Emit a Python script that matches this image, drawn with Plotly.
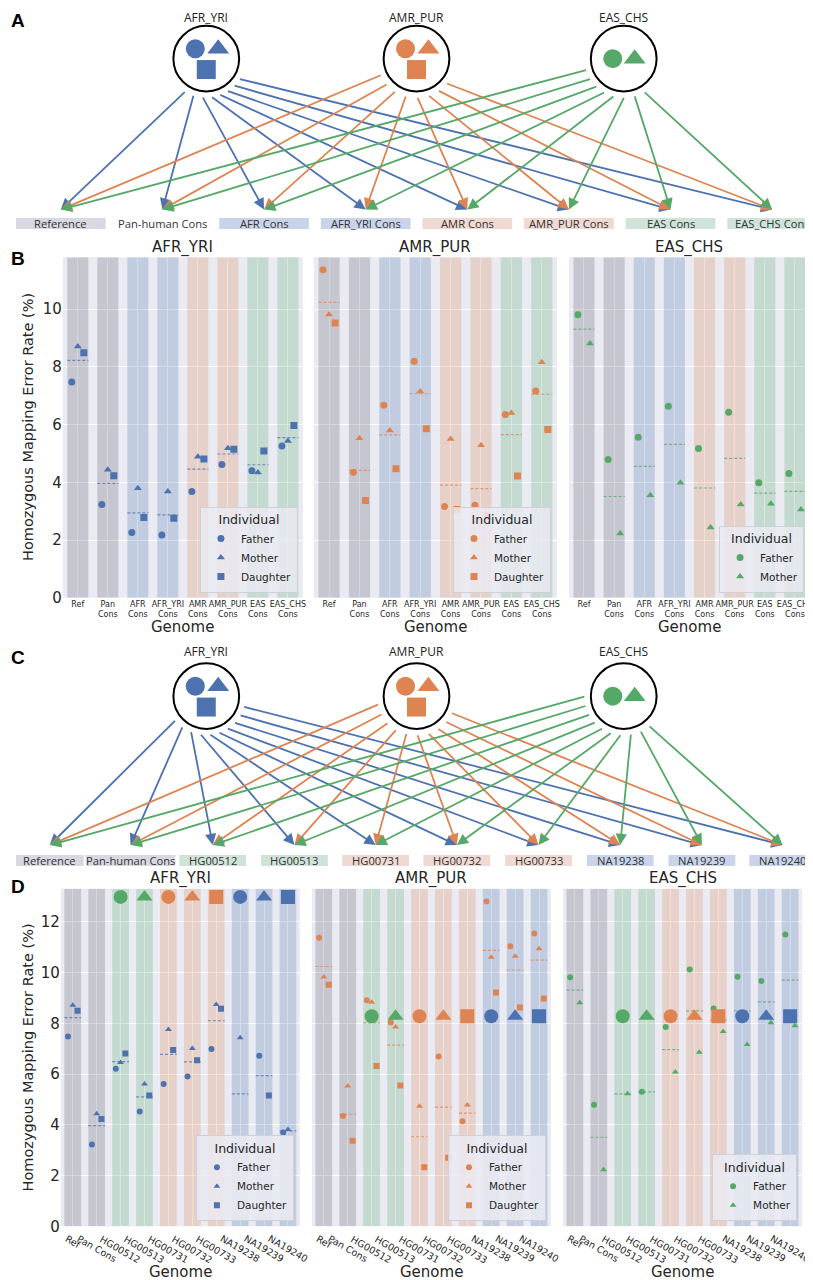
import numpy as np
import plotly.graph_objects as go

W, H = 813, 1280

# ---------------- data ----------------
populations = ["AFR_YRI", "AMR_PUR", "EAS_CHS"]
pop_members = [["Father", "Mother", "Daughter"],
               ["Father", "Mother", "Daughter"],
               ["Father", "Mother"]]

# A / B : consensus genomes
cons_targets = ["Reference", "Pan-human Cons", "AFR Cons", "AFR_YRI Cons",
                "AMR Cons", "AMR_PUR Cons", "EAS Cons", "EAS_CHS Cons"]
cons_box_groups = ["REF", None, "AFR", "AFR", "AMR", "AMR", "EAS", "EAS"]
cons_band_groups = ["REF", "REF", "AFR", "AFR", "AMR", "AMR", "EAS", "EAS"]
cons_ticks = ["Ref", "Pan<br>Cons", "AFR<br>Cons", "AFR_YRI<br>Cons", "AMR<br>Cons",
              "AMR_PUR<br>Cons", "EAS<br>Cons", "EAS_CHS<br>Cons"]

afr_cons_father = [7.48, 3.23, 2.26, 2.18, 3.68, 4.62, 4.40, 5.26]
afr_cons_mother = [8.71, 4.44, 3.80, 3.68, 4.89, 5.18, 4.34, 5.43]
afr_cons_daughter = [8.49, 4.23, 2.78, 2.76, 4.81, 5.15, 5.09, 5.97]
amr_cons_father = [11.37, 4.35, 6.67, 8.20, 3.16, 3.21, 6.35, 7.17]
amr_cons_mother = [9.82, 5.53, 5.80, 7.15, 5.50, 5.29, 6.40, 8.16]
amr_cons_daughter = [9.52, 3.37, 4.47, 5.86, 3.06, 2.84, 4.22, 5.83]
eas_cons_father = [9.81, 4.79, 5.56, 6.64, 5.17, 6.43, 3.99, 4.31]
eas_cons_mother = [8.81, 2.23, 3.55, 3.99, 2.44, 3.23, 3.26, 3.06]

# C / D : individual genomes
ind_targets = ["Reference", "Pan-human Cons", "HG00512", "HG00513", "HG00731",
               "HG00732", "HG00733", "NA19238", "NA19239", "NA19240"]
ind_groups = ["REF", "REF", "EAS", "EAS", "AMR", "AMR", "AMR", "AFR", "AFR", "AFR"]
ind_ticks = ["Ref", "Pan Cons", "HG00512", "HG00513", "HG00731",
             "HG00732", "HG00733", "NA19238", "NA19239", "NA19240"]
ind_owner_pop = [None, None, "EAS_CHS", "EAS_CHS", "AMR_PUR", "AMR_PUR", "AMR_PUR",
                 "AFR_YRI", "AFR_YRI", "AFR_YRI"]
ind_owner_role = [None, None, "Father", "Mother", "Father", "Mother", "Daughter",
                  "Father", "Mother", "Daughter"]
owner_marker_y = [12.98, 8.28, 8.28]

afr_ind_father = [7.48, 3.23, 6.21, 4.53, 5.61, 5.90, 6.99, None, 6.72, 3.70]
afr_ind_mother = [8.71, 4.44, 6.46, 5.61, 7.76, 7.01, 8.74, 7.43, None, 3.82]
afr_ind_daughter = [8.49, 4.23, 6.81, 5.16, 6.95, 6.54, 8.57, 3.01, 5.16, None]
amr_ind_father = [11.37, 4.35, 8.91, 8.03, None, 6.69, 4.14, 12.80, 11.04, 11.54]
amr_ind_mother = [9.82, 5.53, 8.83, 7.85, 4.73, None, 4.78, 10.60, 10.64, 10.94]
amr_ind_daughter = [9.52, 3.37, 6.32, 5.55, 2.33, 2.70, None, 9.21, 8.62, 8.98]
eas_ind_father = [9.81, 4.79, None, 5.30, 7.85, 10.12, 8.58, 9.83, 9.67, 11.50]
eas_ind_mother = [8.81, 2.23, 5.22, None, 6.08, 6.86, 7.68, 7.16, 8.02, 7.90]

# ---------------- style ----------------
pop_colors = {"AFR_YRI": "#4C72B0", "AMR_PUR": "#DD8452", "EAS_CHS": "#55A868"}
band_colors = {"REF": "rgba(105,105,122,0.28)", "AFR": "rgba(76,114,176,0.25)",
               "AMR": "rgba(221,132,82,0.25)", "EAS": "rgba(85,168,104,0.25)"}
box_colors = {"REF": "#D8D8E2", "AFR": "#C9D3EA", "AMR": "#EFD9D2", "EAS": "#D0E3D9"}
symbols = {"Father": "circle", "Mother": "triangle-up", "Daughter": "square"}
TXT = "#262626"
DIAG_FONT = "Open Sans"


def px(x):
    return x / W


def py(y):
    return 1 - y / H


fig = go.Figure()
shapes, annots, layout_axes, legends = [], [], {}, {}


def label(x, y, text, size, **kw):
    d = dict(x=px(x), y=py(y), xref="paper", yref="paper", text=text, showarrow=False,
             xanchor="center", yanchor="middle", font=dict(size=size, color=TXT))
    d.update(kw)
    annots.append(d)


def strip_panel(k, xpx, ypx, ymax, yticks, ticks, groups, pop, series, leg_px,
                msize, rotated, owners=None, owner_y=None):
    s = "" if k == 1 else str(k)
    xa, ya = "x" + s, "y" + s
    leg_id = "legend" + s
    n = len(ticks)
    cats = np.arange(n)
    color = pop_colors[pop]

    fig.add_trace(go.Bar(x=cats, y=[ymax] * n, width=0.7,
                         marker=dict(color=[band_colors[g] for g in groups], line_width=0),
                         showlegend=False, hoverinfo="skip", xaxis=xa, yaxis=ya))

    vals = np.array([[np.nan if v is None else v for v in vs] for _, vs in series], dtype=float)
    means = np.nanmean(vals, axis=0)
    mx, my = [], []
    for i, m in enumerate(means):
        mx += [i - 0.35, i + 0.35, None]
        my += [m, m, None]
    fig.add_trace(go.Scatter(x=mx, y=my, mode="lines", opacity=0.75,
                             line=dict(color=color, width=1.2, dash="3px,2px"),
                             showlegend=False, hoverinfo="skip", xaxis=xa, yaxis=ya))

    offs = [-0.2, 0.0, 0.2] if len(series) == 3 else [-0.2, 0.2]
    for (role, vs), off in zip(series, offs):
        xx = [i + off for i, v in enumerate(vs) if v is not None]
        yy = [v for v in vs if v is not None]
        fig.add_trace(go.Scatter(x=xx, y=yy, mode="markers", name=role,
                                 marker=dict(symbol=symbols[role], color=color, size=msize),
                                 legend=leg_id, xaxis=xa, yaxis=ya))

    if owners is not None:
        ox = [i for i, p in enumerate(owners[0]) if p is not None]
        fig.add_trace(go.Scatter(
            x=ox, y=[owner_y] * len(ox), mode="markers", showlegend=False,
            marker=dict(symbol=[symbols[owners[1][i]] for i in ox],
                        color=[pop_colors[owners[0][i]] for i in ox], size=14),
            xaxis=xa, yaxis=ya))

    shapes.append(dict(type="rect", xref=xa + " domain", yref=ya + " domain",
                       x0=0, x1=1, y0=0, y1=1, fillcolor="#EAEAF2",
                       line_width=0, layer="below"))

    layout_axes["xaxis" + s] = dict(
        domain=[px(xpx[0]), px(xpx[1])], range=[-0.5, n - 0.5], anchor=ya,
        tickvals=list(cats), ticktext=ticks, showticklabels=not rotated, tickangle=0,
        tickfont=dict(size=8, color=TXT), showgrid=True, gridcolor="white",
        zeroline=False, showline=False, ticks="")
    layout_axes["yaxis" + s] = dict(
        domain=[py(ypx[1]), py(ypx[0])], range=[0, ymax], anchor=xa,
        tickvals=yticks, showticklabels=(k in (1, 4)),
        tickfont=dict(size=15, color=TXT), showgrid=True, gridcolor="white",
        gridwidth=1, zeroline=False, showline=False, ticks="")

    cx = (xpx[0] + xpx[1]) / 2
    label(cx, ypx[0] - 10, pop, 15)
    label(cx, ypx[2], "Genome", 15)
    if rotated:
        for i, t in enumerate(ticks):
            annots.append(dict(x=i, y=py(ypx[1] + 4), xref=xa, yref="paper",
                               text=t, textangle=30, xanchor="center", yanchor="top",
                               showarrow=False, font=dict(size=9.5, color=TXT)))

    legends[leg_id] = dict(
        x=px(leg_px[0]), y=py(leg_px[1]), xanchor="right", yanchor="bottom",
        bgcolor="rgba(234,234,242,0.85)", bordercolor="#D0D0D8", borderwidth=1,
        title=dict(text="Individual", font=dict(size=12.5, color=TXT), side="top center"),
        font=dict(size=10.5, color=TXT), tracegroupgap=0)


# ---------------- panel B ----------------
b_x = [(55, 296), (307, 551), (563, 805)]
b_y = (251, 594, 623)
b_leg = [(291, 589), (545, 589), (799, 589)]
b_series = [
    [("Father", afr_cons_father), ("Mother", afr_cons_mother), ("Daughter", afr_cons_daughter)],
    [("Father", amr_cons_father), ("Mother", amr_cons_mother), ("Daughter", amr_cons_daughter)],
    [("Father", eas_cons_father), ("Mother", eas_cons_mother)],
]
for j, pop in enumerate(populations):
    strip_panel(j + 1, b_x[j], b_y, 11.8, [0, 2, 4, 6, 8, 10], cons_ticks,
                cons_band_groups, pop, b_series[j], b_leg[j], 7, False)

# ---------------- panel D ----------------
d_x = [(53, 293), (305, 545), (557, 797)]
d_y = (887, 1227, 1273)
d_leg = [(287, 1222), (540, 1222), (792, 1222)]
d_series = [
    [("Father", afr_ind_father), ("Mother", afr_ind_mother), ("Daughter", afr_ind_daughter)],
    [("Father", amr_ind_father), ("Mother", amr_ind_mother), ("Daughter", amr_ind_daughter)],
    [("Father", eas_ind_father), ("Mother", eas_ind_mother)],
]
for j, pop in enumerate(populations):
    strip_panel(j + 4, d_x[j], d_y, 13.3, [0, 2, 4, 6, 8, 10, 12], ind_ticks,
                ind_groups, pop, d_series[j], d_leg[j], 6, True,
                owners=(ind_owner_pop, ind_owner_role), owner_y=owner_marker_y[j])

# y axis titles
for yc in (422, 1057):
    label(20, yc, "Homozygous Mapping Error Rate (%)", 14.5, textangle=-90)

# ---------------- diagrams A and C ----------------
src_x = [199, 410, 618]


def diagram(src_y, label_y, targets, box_groups, tgt_x, box_w, tip_y, box_y, angles):
    for p, pop in enumerate(populations):
        cx = src_x[p]
        col = pop_colors[pop]
        annots.append(dict(x=cx, y=label_y, xref="x7", yref="y7", text=pop, showarrow=False,
                           xanchor="center", yanchor="middle",
                           font=dict(family=DIAG_FONT, size=12, color="#222")))
        shapes.append(dict(type="circle", xref="x7", yref="y7", x0=cx - 33, x1=cx + 33,
                           y0=src_y - 33, y1=src_y + 33, line=dict(color="black", width=2),
                           fillcolor="white", layer="below"))
        mem = pop_members[p]
        if len(mem) == 3:
            pos = [(-11, -10), (12, -10), (0, 11)]
        else:
            pos = [(-11, 0), (11, 0)]
        fig.add_trace(go.Scatter(
            x=[cx + d[0] for d in pos], y=[src_y + d[1] for d in pos], mode="markers",
            marker=dict(symbol=[symbols[m] for m in mem], color=col, size=19, line_width=0),
            showlegend=False, hoverinfo="skip", xaxis="x7", yaxis="y7"))
        a0, a1 = angles[p]
        th = np.radians(np.linspace(a0, a1, len(targets)))
        for t in range(len(targets)):
            sx = cx + 38 * np.cos(th[t])
            sy = src_y + 38 * np.sin(th[t])
            annots.append(dict(x=tgt_x[t], y=tip_y, ax=sx, ay=sy, xref="x7", yref="y7",
                               axref="x7", ayref="y7", text="", showarrow=True,
                               arrowhead=2, arrowsize=1.25, arrowwidth=1.8, arrowcolor=col,
                               standoff=0))
    for t, name in enumerate(targets):
        g = box_groups[t]
        if g is not None:
            shapes.append(dict(type="rect", xref="x7", yref="y7",
                               x0=tgt_x[t] - box_w[t] / 2, x1=tgt_x[t] + box_w[t] / 2,
                               y0=box_y - 5.5, y1=box_y + 5.5, fillcolor=box_colors[g],
                               line_width=0, layer="below"))
        annots.append(dict(x=tgt_x[t], y=box_y, xref="x7", yref="y7", text=name,
                           showarrow=False, xanchor="center", yanchor="middle",
                           font=dict(family=DIAG_FONT, size=11.2, color="#333")))


a_tx = [53 + 102 * i for i in range(len(cons_targets))]
diagram(51, 9.5, cons_targets, cons_box_groups, a_tx, [90] * 8, 203, 217,
        [(122, 32), (155, 40), (163, 59)])

c_tx = [42, 123, 205.5, 287.5, 369, 450.5, 532.5, 614.5, 696.5, 777.5]
c_w = [68, 90] + [67] * 8
diagram(693, 648, ind_targets, ind_groups, c_tx, c_w, 843, 858.5,
        [(142, 16), (168, 26), (180, 50)])

layout_axes["xaxis7"] = dict(domain=[0, 1], range=[0, W], visible=False, anchor="y7")
layout_axes["yaxis7"] = dict(domain=[0, 1], range=[H, 0], visible=False, anchor="x7")

# panel letters
for letter, ly in (("A", 13), ("B", 252), ("C", 654), ("D", 885)):
    label(1, ly, "<b>" + letter + "</b>", 19, xanchor="left",
          font=dict(family="Liberation Sans", size=19, color="black"))

fig.update_layout(width=W, height=H, margin=dict(l=0, r=0, t=0, b=0),
                  paper_bgcolor="white", plot_bgcolor="rgba(0,0,0,0)",
                  font=dict(family="DejaVu Sans", color=TXT),
                  shapes=shapes, annotations=annots, **layout_axes, **legends)

fig.write_html("out.html")
